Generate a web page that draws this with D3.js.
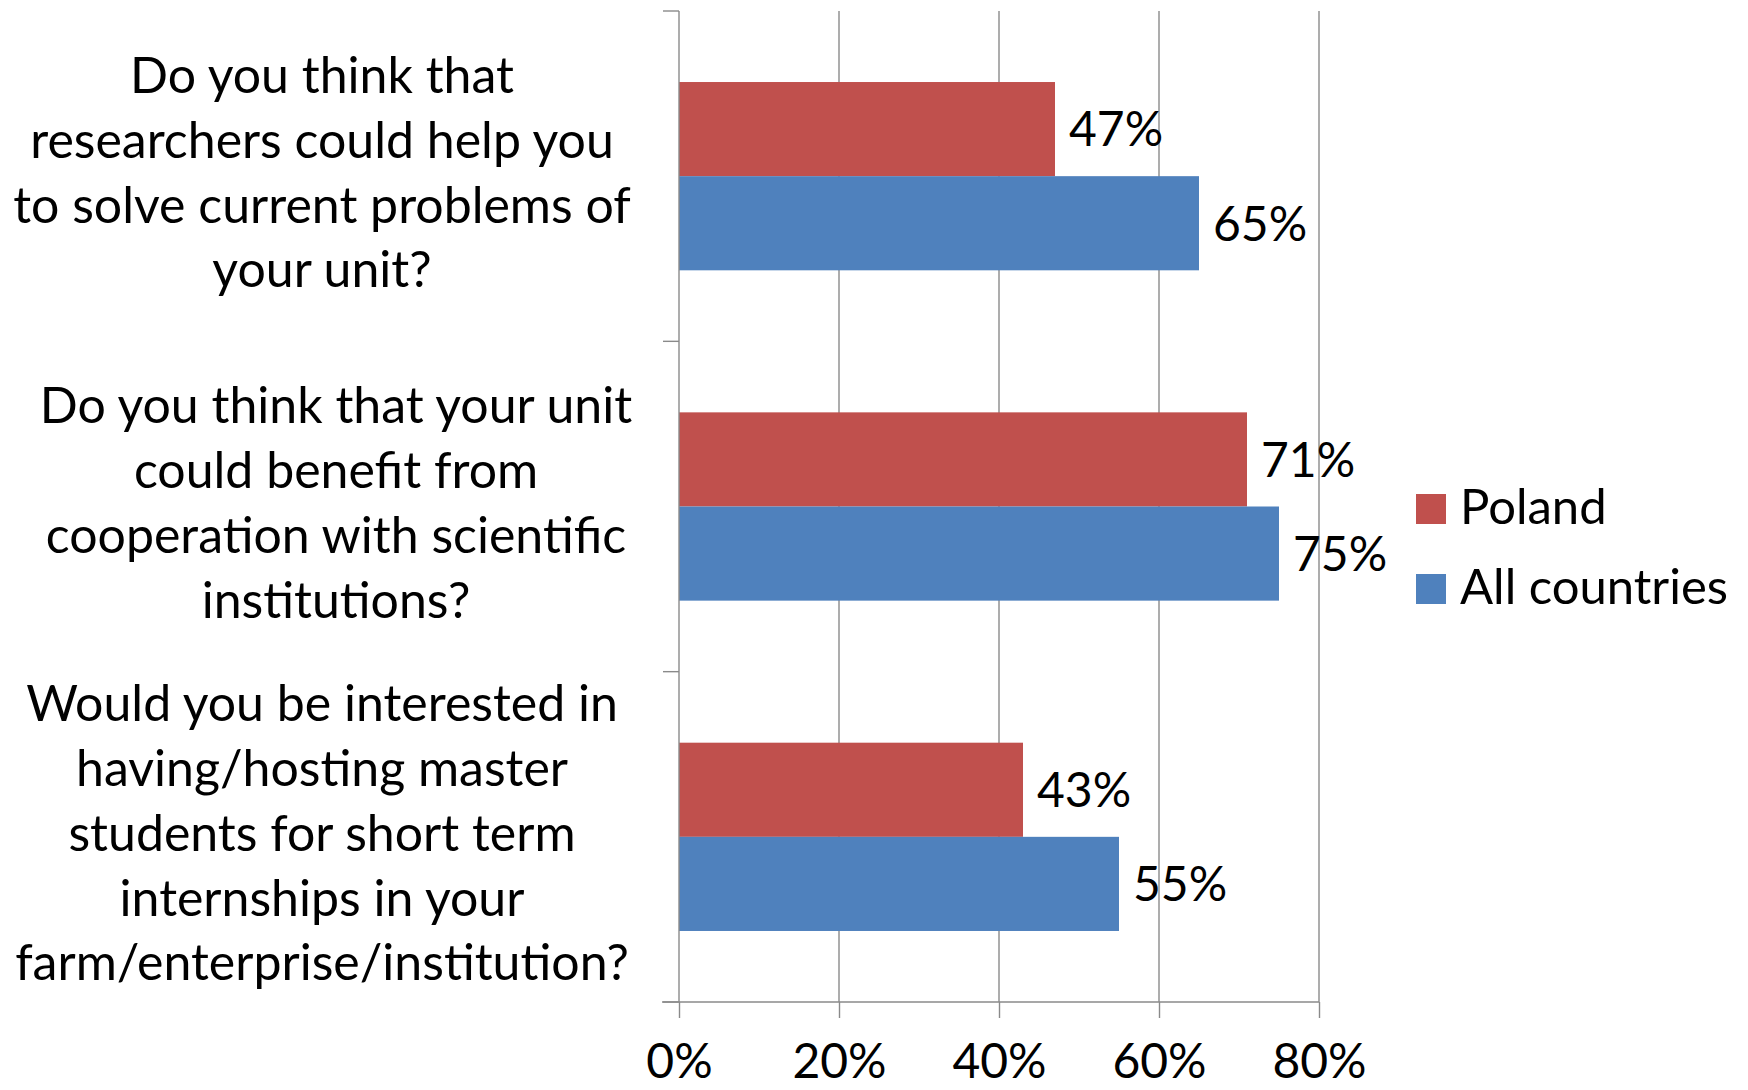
<!DOCTYPE html>
<html>
<head>
<meta charset="utf-8">
<script src="https://cdn.jsdelivr.net/npm/d3@7"></script>
<style>
  body { margin: 0; background: #fff; }
  text { font-family: Lato, "Open Sans", sans-serif; fill: #000; }
</style>
</head>
<body>
<svg width="1748" height="1090"></svg>
<script>
// question labels, already broken into lines like the original
const questions = [
  ["Do you think that", "researchers could help you", "to solve current problems of", "your unit?"],
  ["Do you think that your unit", "could benefit from", "cooperation with scientific", "institutions?"],
  ["Would you be interested in", "having/hosting master", "students for short term", "internships in your", "farm/enterprise/institution?"]
];
const seriesNames = ["Poland", "All countries"];
const poland = [0.47, 0.71, 0.43];
const allCountries = [0.65, 0.75, 0.55];
const xTicks = [0, 0.2, 0.4, 0.6, 0.8];

const colors = { "Poland": "#C0504D", "All countries": "#4F81BD" };

const svg = d3.select("svg"),
  margin = { top: 11, right: 429, bottom: 88, left: 679 },
  width = 1748 - margin.left - margin.right,   // 640
  height = 1090 - margin.top - margin.bottom;  // 991

const catFont = 50, valFont = 48, legFont = 49;
const lineH = 64.7;
// horizontal centre of each question block (excel shifts the middle one a bit)
const labelCx = [322, 336, 322];

const rows = questions.map((q, i) => ({
  idx: i,
  lines: q,
  values: { "Poland": poland[i], "All countries": allCountries[i] }
}));

const x = d3.scaleLinear().domain([0, 0.8]).range([0, width]);
const y0 = d3.scaleBand()
  .domain(rows.map(d => d.idx))
  .range([0, height])
  .paddingInner(0.43)
  .paddingOuter(0.215);
const y1 = d3.scaleBand().domain(seriesNames).range([0, y0.bandwidth()]);

const g = svg.append("g")
  .attr("transform", "translate(" + margin.left + "," + margin.top + ")");

// vertical gridlines
g.append("g")
  .selectAll("line")
  .data(xTicks.slice(1))
  .enter().append("line")
  .attr("x1", d => x(d)).attr("x2", d => x(d))
  .attr("y1", 0).attr("y2", height)
  .attr("stroke", "#8a8a8a")
  .attr("stroke-width", 1.4);

// bars
const grp = g.selectAll(".grp")
  .data(rows)
  .enter().append("g")
  .attr("class", "grp")
  .attr("transform", d => "translate(0," + y0(d.idx) + ")");

grp.selectAll("rect")
  .data(d => seriesNames.map(k => ({ key: k, value: d.values[k] })))
  .enter().append("rect")
  .attr("x", 0)
  .attr("y", d => y1(d.key))
  .attr("width", d => x(d.value))
  .attr("height", y1.bandwidth())
  .attr("fill", d => colors[d.key]);

// data labels
grp.selectAll(".lbl")
  .data(d => seriesNames.map(k => ({ key: k, value: d.values[k] })))
  .enter().append("text")
  .attr("class", "lbl")
  .attr("x", d => x(d.value) + 14)
  .attr("y", d => y1(d.key) + y1.bandwidth() / 2)
  .attr("dy", "0.36em")
  .style("font-size", valFont + "px")
  .text(d => d3.format(".0%")(d.value));

// y axis: line plus category separators
const yStep = height / questions.length;
const yAxis = g.append("g").attr("class", "axis axis--y");
yAxis.append("line")
  .attr("x1", 0).attr("x2", 0).attr("y1", 0).attr("y2", height)
  .attr("stroke", "#8a8a8a").attr("stroke-width", 1.4);
yAxis.selectAll(".tk")
  .data(d3.range(questions.length + 1))
  .enter().append("line")
  .attr("x1", -16).attr("x2", 0)
  .attr("y1", d => d * yStep).attr("y2", d => d * yStep)
  .attr("stroke", "#8a8a8a").attr("stroke-width", 1.4);

// question text, centred in each band
grp.each(function (d) {
  const n = d.lines.length;
  const mid = y0.bandwidth() / 2;
  const cx = labelCx[d.idx] - margin.left;
  d3.select(this).append("text")
    .attr("text-anchor", "middle")
    .style("font-size", catFont + "px")
    .selectAll("tspan")
    .data(d.lines)
    .enter().append("tspan")
    .attr("x", cx)
    .attr("y", (l, i) => mid + (i - (n - 1) / 2) * lineH + 14)
    .text(l => l);
});

// x axis
const xAxis = g.append("g")
  .attr("class", "axis axis--x")
  .attr("transform", "translate(0," + height + ")")
  .call(d3.axisBottom(x).tickValues(xTicks).tickFormat(d3.format(".0%")).tickSize(16).tickSizeOuter(0));
xAxis.select(".domain").remove();
xAxis.append("line")
  .attr("x1", -17).attr("x2", width).attr("y1", 0).attr("y2", 0)
  .attr("stroke", "#8a8a8a").attr("stroke-width", 1.4);
xAxis.selectAll(".tick line").attr("stroke", "#8a8a8a").attr("stroke-width", 1.4);
xAxis.selectAll(".tick text")
  .attr("y", 76).attr("dy", 0)
  .style("font-size", valFont + "px")
  .style("font-family", "Lato, 'Open Sans', sans-serif")
  .attr("fill", "#000");

// legend
const legend = svg.append("g").attr("transform", "translate(1416,494)");
const li = legend.selectAll("g")
  .data(seriesNames)
  .enter().append("g")
  .attr("transform", (d, i) => "translate(0," + i * 80 + ")");
li.append("rect").attr("width", 30).attr("height", 30).attr("fill", d => colors[d]);
li.append("text")
  .attr("x", 44).attr("y", 30)
  .style("font-size", legFont + "px")
  .text(d => d);
</script>
</body>
</html>
